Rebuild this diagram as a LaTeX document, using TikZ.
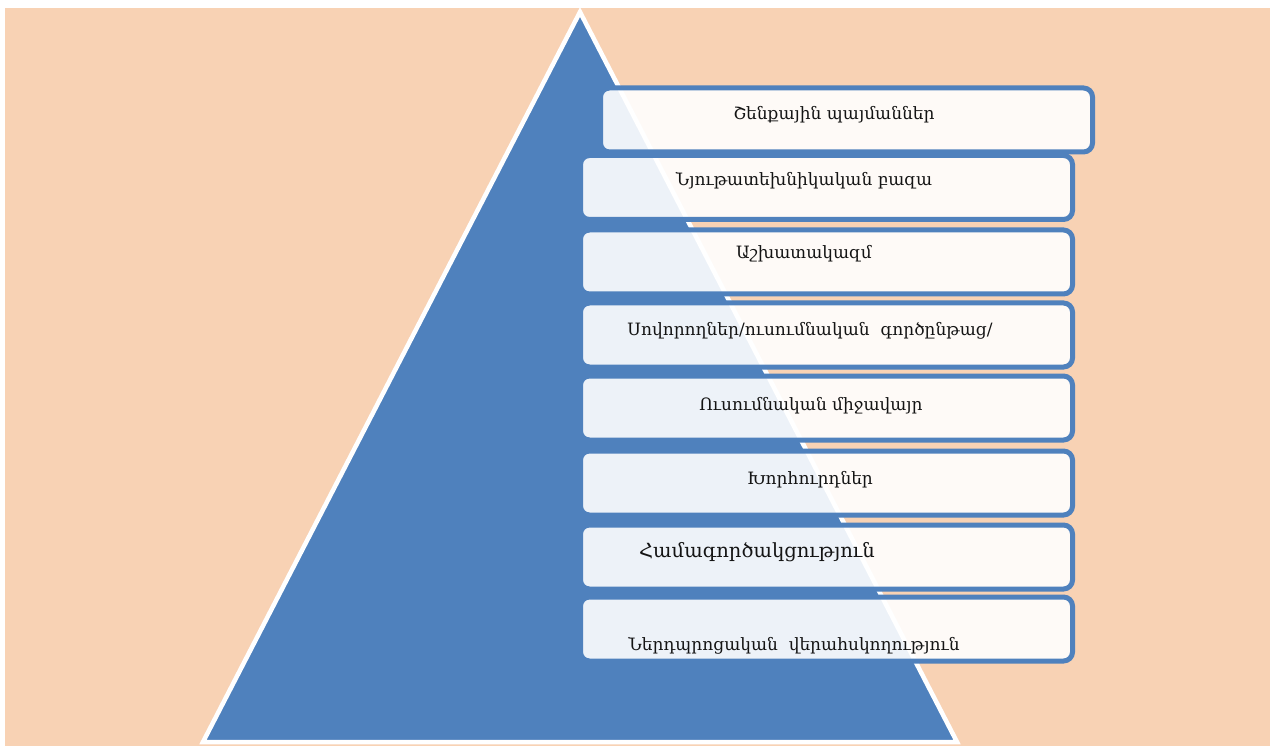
\documentclass[tikz,border=0pt]{standalone}
\usepackage{fontspec}
\newfontfamily\armfont{DejaVu Serif}
\definecolor{peach}{RGB}{248,210,180}
\definecolor{pblue}{RGB}{79,129,189}
\definecolor{txt}{RGB}{20,20,20}
\begin{document}
\begin{tikzpicture}[x=1pt,y=-1pt,
  tier/.style={draw=pblue, line width=5pt, fill=white, fill opacity=0.9, draw opacity=1,
    rounded corners=9pt, minimum width=492pt, minimum height=64pt, inner sep=0pt},
  lbl/.style={anchor=base, text=txt, inner sep=0pt, font=\armfont\fontsize{17}{20}\selectfont},
  biglbl/.style={lbl, font=\armfont\fontsize{19.5}{22}\selectfont}]
\useasboundingbox (0,0) rectangle (1270,746);
\fill[peach] (5,8) rectangle (1270,746);
\coordinate (apex) at (580,12);
\coordinate (bl) at (203,742);
\coordinate (br) at (957,742);
\draw[white, line width=4.5pt, fill=pblue] (apex) -- (bl) -- (br) -- cycle;
\node[tier] (b1) at (846.5,120) {};
\node[tier] (b2) at (826.5,187.5) {};
\node[tier] (b3) at (826.5,262) {};
\node[tier] (b4) at (826.5,335) {};
\node[tier] (b5) at (826.5,408) {};
\node[tier] (b6) at (826.5,483) {};
\node[tier] (b7) at (826.5,557) {};
\node[tier] (b8) at (826.5,629) {};
\node[lbl] (t1) at (834,120) {Շենքային պայմաններ};
\node[lbl] (t2) at (804,186) {Նյութատեխնիկական բազա};
\node[lbl] (t3) at (804,259) {Աշխատակազմ};
\node[lbl] (t4) at (810,335) {Սովորողներ/ուսումնական\ \ գործընթաց/};
\node[lbl] (t5) at (811,410) {Ուսումնական միջավայր};
\node[lbl] (t6) at (810,484) {Խորհուրդներ};
\node[biglbl] (t7) at (757,557) {Համագործակցություն};
\node[lbl] (t8) at (794,650) {Ներդպրոցական\ \ վերահսկողություն};
\end{tikzpicture}
\end{document}
